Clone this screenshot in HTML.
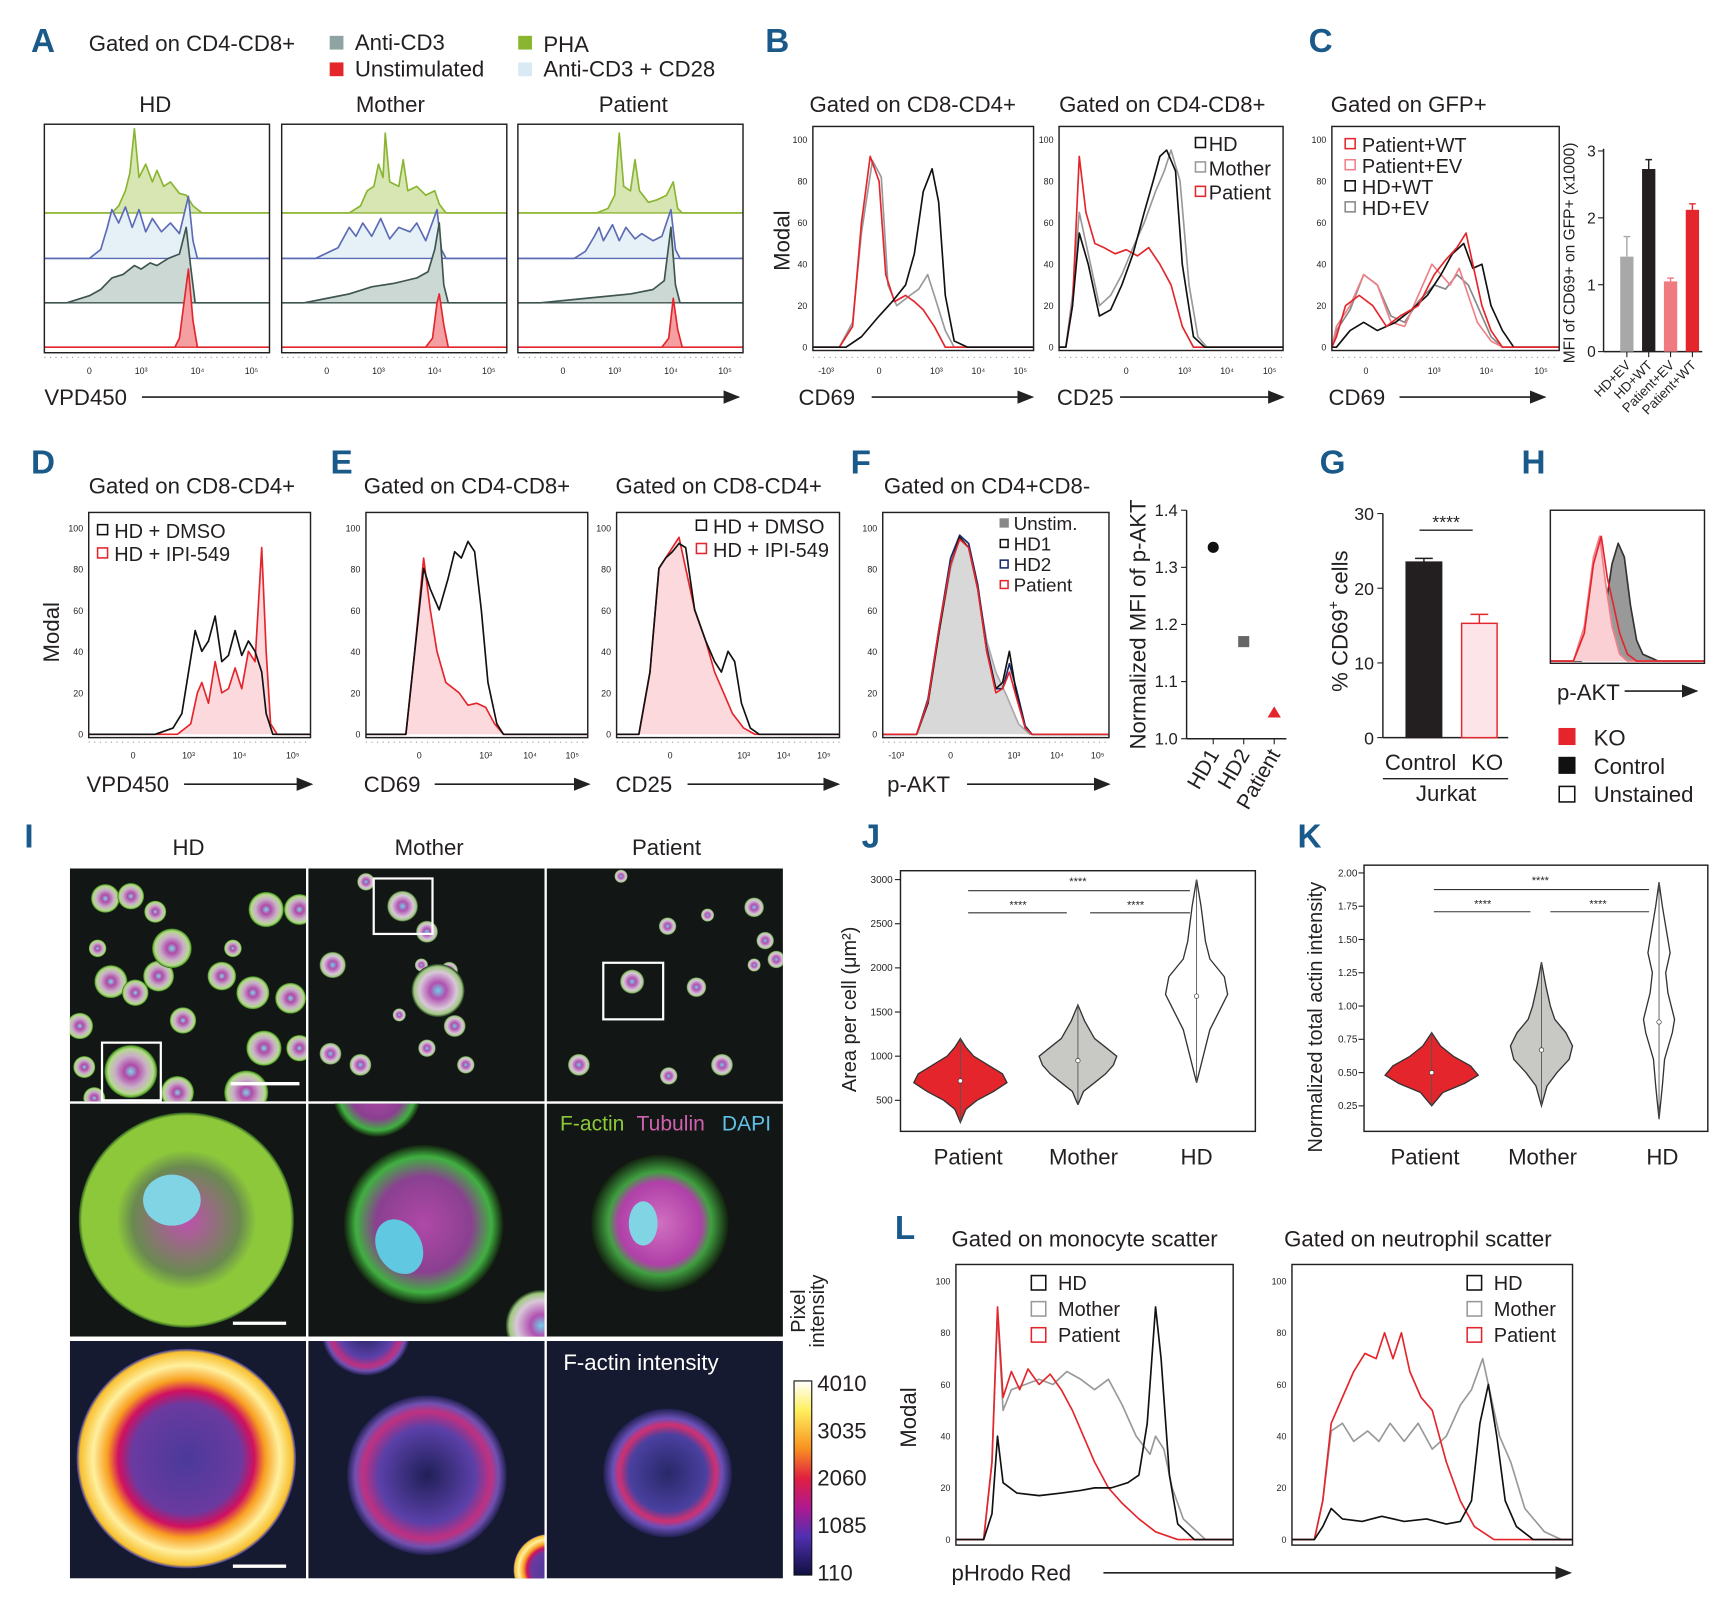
<!DOCTYPE html>
<html><head><meta charset="utf-8">
<style>
html,body{margin:0;padding:0;background:#fff;}
svg{display:block;font-family:"Liberation Sans Narrow","Liberation Sans",sans-serif;}
</style></head>
<body>
<svg id="fig" xmlns="http://www.w3.org/2000/svg" width="1730" height="1605" viewBox="0 0 1560 1447" preserveAspectRatio="none">
<defs>
<radialGradient id="cellG" cx="50%" cy="50%" r="50%"><stop offset="0" stop-color="#7fd8e8"/><stop offset="0.25" stop-color="#b04aa8"/><stop offset="0.6" stop-color="#c8b0c8"/><stop offset="0.85" stop-color="#b8d890"/><stop offset="0.95" stop-color="#60b030"/><stop offset="1" stop-color="#1a3a1a"/></radialGradient>
<radialGradient id="cellP" cx="50%" cy="50%" r="50%"><stop offset="0" stop-color="#70d0e8"/><stop offset="0.3" stop-color="#b050b0"/><stop offset="0.7" stop-color="#d8c8d8"/><stop offset="0.9" stop-color="#a0c880"/><stop offset="1" stop-color="#183018"/></radialGradient>
<radialGradient id="bigHD" cx="50%" cy="50%" r="50%"><stop offset="0" stop-color="#c050b0"/><stop offset="0.5" stop-color="#6a8a50"/><stop offset="0.65" stop-color="#8cc83a"/><stop offset="0.97" stop-color="#8cc83a"/><stop offset="1" stop-color="#2a5a20"/></radialGradient>
<radialGradient id="bigM" cx="50%" cy="50%" r="50%"><stop offset="0" stop-color="#b048a8"/><stop offset="0.6" stop-color="#8a4090"/><stop offset="0.85" stop-color="#40b040"/><stop offset="1" stop-color="#12200f"/></radialGradient>
<radialGradient id="bigP" cx="50%" cy="50%" r="50%"><stop offset="0" stop-color="#d070c0"/><stop offset="0.6" stop-color="#b040a8"/><stop offset="0.75" stop-color="#40a040"/><stop offset="1" stop-color="#12200f"/></radialGradient>
<radialGradient id="heatHD" cx="50%" cy="50%" r="50%"><stop offset="0" stop-color="#4a3a9a"/><stop offset="0.5" stop-color="#6a3aa0"/><stop offset="0.62" stop-color="#d01060"/><stop offset="0.72" stop-color="#f8a020"/><stop offset="0.85" stop-color="#fff0a0"/><stop offset="0.97" stop-color="#f8c030"/><stop offset="1" stop-color="#3030a0"/></radialGradient>
<radialGradient id="heatM" cx="50%" cy="50%" r="50%"><stop offset="0" stop-color="#202058"/><stop offset="0.6" stop-color="#5a40a8"/><stop offset="0.8" stop-color="#c03080"/><stop offset="0.9" stop-color="#7050b0"/><stop offset="1" stop-color="#202050"/></radialGradient>
<radialGradient id="heatP" cx="50%" cy="50%" r="50%"><stop offset="0" stop-color="#282868"/><stop offset="0.6" stop-color="#4a40a0"/><stop offset="0.75" stop-color="#d03070"/><stop offset="0.85" stop-color="#6a50b8"/><stop offset="1" stop-color="#202050"/></radialGradient>
<linearGradient id="cbar" x1="0" y1="0" x2="0" y2="1"><stop offset="0" stop-color="#ffffff"/><stop offset="0.15" stop-color="#fff060"/><stop offset="0.35" stop-color="#f89020"/><stop offset="0.5" stop-color="#e02040"/><stop offset="0.65" stop-color="#b01890"/><stop offset="0.8" stop-color="#5030b0"/><stop offset="1" stop-color="#101040"/></linearGradient>
<marker id="arr" markerWidth="10" markerHeight="10" refX="9" refY="5" orient="auto"><path d="M0,1 L10,5 L0,9 z" fill="#222"/></marker>
</defs>
</svg>
<script>
// ---------- DATA ----------
const aHDGreen=[[0.3,0],[0.33,8],[0.36,25],[0.38,45],[0.4,95],[0.42,40],[0.45,55],[0.48,35],[0.5,48],[0.53,30],[0.56,35],[0.6,22],[0.63,20],[0.66,8],[0.7,0]];
const aHDBlue=[[0.2,0],[0.25,10],[0.28,35],[0.3,55],[0.33,40],[0.36,58],[0.39,35],[0.42,55],[0.45,30],[0.48,45],[0.52,30],[0.56,40],[0.6,28],[0.64,70],[0.66,20],[0.68,0]];
const aHDGray=[[0.1,0],[0.2,8],[0.25,15],[0.3,28],[0.35,32],[0.4,42],[0.43,38],[0.47,45],[0.5,42],[0.55,50],[0.6,55],[0.63,85],[0.65,40],[0.67,0]];
const aHDRed=[[0.58,0],[0.6,10],[0.62,50],[0.64,88],[0.66,30],[0.68,0]];
const aMGreen=[[0.3,0],[0.35,8],[0.38,25],[0.41,30],[0.43,55],[0.45,40],[0.46,90],[0.48,35],[0.52,30],[0.54,60],[0.56,25],[0.6,30],[0.64,20],[0.68,25],[0.7,10],[0.73,0]];
const aMBlue=[[0.15,0],[0.25,12],[0.3,35],[0.33,25],[0.36,40],[0.4,25],[0.44,45],[0.48,22],[0.52,35],[0.57,30],[0.6,40],[0.64,20],[0.69,55],[0.71,10],[0.73,0]];
const aMGray=[[0.1,0],[0.2,5],[0.3,10],[0.4,18],[0.5,22],[0.55,25],[0.6,28],[0.65,35],[0.68,60],[0.7,90],[0.72,20],[0.74,0]];
const aMRed=[[0.64,0],[0.67,10],[0.69,50],[0.7,60],[0.72,25],[0.74,0]];
const aPGreen=[[0.35,0],[0.4,5],[0.43,20],[0.45,90],[0.47,30],[0.5,25],[0.52,60],[0.54,25],[0.58,12],[0.62,15],[0.66,20],[0.69,35],[0.71,5],[0.73,0]];
const aPBlue=[[0.25,0],[0.3,8],[0.34,25],[0.36,35],[0.38,20],[0.42,38],[0.45,20],[0.48,35],[0.52,22],[0.55,28],[0.6,20],[0.64,25],[0.68,55],[0.7,10],[0.72,0]];
const aPGray=[[0.1,0],[0.3,5],[0.5,10],[0.6,15],[0.65,25],[0.68,85],[0.7,20],[0.72,0]];
const aPRed=[[0.64,0],[0.67,10],[0.69,55],[0.71,20],[0.73,0]];
const b1Red=[[0.12,0],[0.18,10],[0.22,60],[0.26,92],[0.3,80],[0.33,35],[0.37,22],[0.42,25],[0.46,22],[0.5,18],[0.55,10],[0.6,0]];
const b1Gray=[[0.12,0],[0.18,12],[0.22,55],[0.27,90],[0.31,82],[0.34,30],[0.38,20],[0.44,25],[0.48,28],[0.52,35],[0.55,25],[0.6,8],[0.64,0]];
const b1Black=[[0.15,0],[0.22,5],[0.3,15],[0.36,22],[0.42,30],[0.46,45],[0.5,75],[0.54,86],[0.57,70],[0.6,25],[0.64,3],[0.7,0]];
const b2Red=[[0.03,0],[0.06,20],[0.09,92],[0.12,65],[0.16,50],[0.2,48],[0.25,45],[0.3,47],[0.35,44],[0.4,48],[0.45,40],[0.5,30],[0.55,10],[0.6,0]];
const b2Black=[[0.03,0],[0.06,20],[0.09,55],[0.13,40],[0.18,15],[0.23,18],[0.28,30],[0.33,45],[0.38,65],[0.42,80],[0.45,92],[0.48,95],[0.52,85],[0.55,40],[0.6,5],[0.65,0]];
const b2Gray=[[0.03,0],[0.06,25],[0.09,65],[0.13,45],[0.18,20],[0.23,25],[0.28,35],[0.33,48],[0.38,60],[0.43,75],[0.47,85],[0.5,95],[0.54,80],[0.58,30],[0.62,5],[0.66,0]];
const cRed=[[0.02,5],[0.06,20],[0.12,25],[0.18,20],[0.24,10],[0.3,15],[0.38,20],[0.45,35],[0.5,42],[0.55,48],[0.59,55],[0.62,40],[0.66,20],[0.7,8],[0.75,0]];
const cPink=[[0.02,10],[0.08,20],[0.14,35],[0.2,30],[0.26,12],[0.32,10],[0.38,25],[0.44,40],[0.48,35],[0.52,30],[0.56,38],[0.6,25],[0.64,12],[0.7,3],[0.75,0]];
const cBlack=[[0.02,0],[0.08,8],[0.14,12],[0.2,8],[0.28,12],[0.35,18],[0.42,25],[0.48,35],[0.53,45],[0.58,50],[0.62,38],[0.66,40],[0.7,20],[0.75,8],[0.8,0]];
const cGray=[[0.02,8],[0.08,18],[0.14,35],[0.2,30],[0.26,15],[0.32,12],[0.38,22],[0.45,30],[0.5,28],[0.55,35],[0.6,30],[0.64,20],[0.7,5],[0.75,0]];
const cBarCats=["HD+EV","HD+WT","Patient+EV","Patient+WT"];
const cBarVals=[1.42,2.73,1.05,2.12];
const cBarErr=[0.3,0.14,0.05,0.09];
const cBarColors=["#a8a8a8","#231f20","#ef7a7f","#e4262c"];
const dBlack=[[0.3,0],[0.38,3],[0.42,10],[0.45,30],[0.48,50],[0.51,40],[0.54,45],[0.57,57],[0.6,35],[0.63,38],[0.66,50],[0.69,38],[0.72,45],[0.75,40],[0.78,30],[0.8,10],[0.83,0]];
const dRed=[[0.4,0],[0.46,5],[0.49,20],[0.51,25],[0.54,15],[0.57,35],[0.6,20],[0.63,22],[0.66,32],[0.69,22],[0.72,40],[0.75,35],[0.78,90],[0.8,40],[0.82,5],[0.85,0]];
const e1Red=[[0.18,0],[0.22,40],[0.26,85],[0.29,60],[0.32,40],[0.36,25],[0.42,20],[0.46,14],[0.5,15],[0.54,13],[0.58,5],[0.62,0]];
const e1Black=[[0.18,0],[0.22,40],[0.26,80],[0.29,70],[0.33,60],[0.37,75],[0.4,88],[0.43,85],[0.46,93],[0.49,88],[0.52,60],[0.55,25],[0.59,5],[0.62,0]];
const e2Red=[[0.1,0],[0.15,30],[0.19,80],[0.22,85],[0.25,90],[0.28,95],[0.31,80],[0.35,60],[0.4,45],[0.44,30],[0.48,20],[0.52,10],[0.57,3],[0.62,0]];
const e2Black=[[0.1,0],[0.15,30],[0.19,80],[0.22,85],[0.25,88],[0.28,92],[0.31,90],[0.35,60],[0.4,45],[0.44,35],[0.47,30],[0.5,40],[0.53,35],[0.56,15],[0.6,3],[0.64,0]];
const fGray=[[0.15,0],[0.2,15],[0.25,50],[0.3,80],[0.34,95],[0.38,90],[0.42,70],[0.46,45],[0.5,30],[0.55,18],[0.6,5],[0.65,0]];
const fBlack=[[0.15,0],[0.2,15],[0.25,50],[0.3,82],[0.34,95],[0.38,90],[0.42,70],[0.46,40],[0.5,22],[0.53,25],[0.56,40],[0.59,20],[0.63,3],[0.66,0]];
const fBlue=[[0.15,0],[0.2,17],[0.25,52],[0.3,85],[0.34,96],[0.38,92],[0.42,72],[0.46,42],[0.5,22],[0.53,22],[0.56,34],[0.59,22],[0.63,4],[0.66,0]];
const fRed=[[0.15,0],[0.2,16],[0.25,52],[0.3,82],[0.34,94],[0.38,90],[0.42,70],[0.46,40],[0.5,20],[0.53,22],[0.56,30],[0.59,18],[0.63,3],[0.66,0]];
const fDotCats=["HD1","HD2","Patient"];
const fDotVals=[1.335,1.17,1.045];
const gCats=["Control","KO"];
const gVals=[23.5,15.3];
const gErr=[0.5,1.2];
const hGray=[[0.2,0],[0.3,10],[0.36,40],[0.4,70],[0.44,85],[0.48,75],[0.52,40],[0.56,15],[0.6,5],[0.7,0]];
const hRed=[[0.15,0],[0.22,20],[0.28,70],[0.33,90],[0.37,60],[0.41,40],[0.45,20],[0.5,5],[0.56,0]];
const hPink=[[0.15,0],[0.22,25],[0.28,75],[0.32,90],[0.36,55],[0.4,25],[0.45,5],[0.5,0]];
const jPatVals=[250,400,500,600,700,800,900,1000,1100,1200];
const jPatDens=[0,5,15,30,42,38,25,12,5,0];
const jMotVals=[450,600,700,800,900,1000,1100,1200,1400,1580];
const jMotDens=[0,5,15,25,32,35,25,15,6,0];
const jHDVals=[700,900,1100,1300,1500,1700,1900,2100,2300,2500,2700,3000];
const jHDDens=[0,4,8,12,20,28,25,12,8,6,4,0];
const jMedians=[720,950,1680];
const jTicks=[500,1000,1500,2000,2500,3000];
const kPatVals=[0.25,0.35,0.42,0.48,0.55,0.62,0.7,0.8];
const kPatDens=[0,10,30,42,35,20,8,0];
const kMotVals=[0.25,0.4,0.5,0.6,0.7,0.8,0.9,1.0,1.15,1.33];
const kMotDens=[0,5,14,25,28,22,12,8,4,0];
const kHDVals=[0.15,0.4,0.6,0.8,0.9,1.1,1.25,1.4,1.6,1.75,1.93];
const kHDDens=[0,3,5,12,14,8,6,10,6,3,0];
const kMedians=[0.5,0.67,0.88];
const kTicks=["0.25","0.50","0.75","1.00","1.25","1.50","1.75","2.00"];
const violinCats=["Patient","Mother","HD"];
const l1Red=[[0.1,0],[0.13,30],[0.15,90],[0.17,55],[0.2,65],[0.23,58],[0.26,66],[0.3,60],[0.34,64],[0.38,58],[0.42,50],[0.46,40],[0.5,30],[0.55,20],[0.6,14],[0.66,8],[0.72,3],[0.8,0]];
const l1Gray=[[0.1,0],[0.13,30],[0.15,88],[0.17,50],[0.2,58],[0.25,60],[0.3,62],[0.35,60],[0.4,65],[0.45,62],[0.5,58],[0.55,62],[0.6,52],[0.65,40],[0.7,33],[0.72,40],[0.75,35],[0.78,20],[0.82,8],[0.9,0]];
const l1Black=[[0.1,0],[0.13,10],[0.15,40],[0.17,22],[0.22,18],[0.3,17],[0.38,18],[0.45,19],[0.5,20],[0.56,20],[0.62,22],[0.66,25],[0.69,45],[0.72,90],[0.74,70],[0.77,25],[0.8,6],[0.86,0]];
const l2Red=[[0.08,0],[0.11,15],[0.14,45],[0.18,55],[0.22,65],[0.26,72],[0.3,70],[0.33,80],[0.36,70],[0.39,80],[0.42,65],[0.46,55],[0.5,50],[0.55,30],[0.6,15],[0.65,5],[0.72,0]];
const l2Gray=[[0.08,0],[0.11,15],[0.14,42],[0.18,45],[0.22,38],[0.27,42],[0.31,38],[0.35,45],[0.4,38],[0.45,45],[0.5,35],[0.55,40],[0.6,52],[0.64,58],[0.68,70],[0.71,55],[0.74,40],[0.78,30],[0.83,12],[0.9,3],[0.96,0]];
const l2Black=[[0.08,0],[0.11,5],[0.14,12],[0.18,8],[0.25,7],[0.32,9],[0.4,7],[0.48,8],[0.55,6],[0.6,7],[0.64,15],[0.67,45],[0.7,60],[0.73,40],[0.76,15],[0.8,5],[0.86,0]];

// ---------- HELPERS ----------
const NS="http://www.w3.org/2000/svg";
const svg=document.getElementById('fig');
function mk(tag,attrs,name,parent){
  const el=document.createElementNS(NS,tag);
  for(const k in attrs) el.setAttribute(k,attrs[k]);
  
  
  (parent||svg).appendChild(el);
  return el;
}
function txt(x,y,s,size,name,opt){
  opt=opt||{};
  const a={x:x,y:y,'font-size':size,fill:opt.fill||'#231f20'};
  if(opt.anchor)a['text-anchor']=opt.anchor;
  if(opt.weight)a['font-weight']=opt.weight;
  if(opt.rot!==undefined)a.transform='rotate('+opt.rot+' '+x+' '+y+')';
  const t=mk('text',a,name);
  t.textContent=s;
  return t;
}
function letter(x,y,s){txt(x,y,s,30,'panel-label-'+s.toLowerCase(),{fill:'#1a5a8a',weight:'bold'});}
function box(x0,y0,x1,y1,name){mk('rect',{x:x0,y:y0,width:x1-x0,height:y1-y0,fill:'none',stroke:'#231f20','stroke-width':1.3},name);}
function hist(pts,x0,x1,base,full,stroke,fill,name,sw){
  let d='M'+x0+','+base;
  pts.forEach(p=>{d+=' L'+(x0+p[0]*(x1-x0)).toFixed(1)+','+(base-p[1]/100*full).toFixed(1);});
  d+=' L'+x1+','+base;
  mk('path',{d:d,fill:fill||'none',stroke:stroke,'stroke-width':sw||1.5,'stroke-linejoin':'round'},name);
}
function yModal(x,top,bot,name){
  for(let v=0;v<=100;v+=20){const y=bot-(v/100)*(bot-top);txt(x-5,y+3,String(v),8,name+'-tick',{anchor:'end'});}
}
function xLogTicks(x0,x1,y,fr,labs,name){
  labs.forEach((l,i)=>{txt(x0+fr[i]*(x1-x0),y,l,8,name+'-tick',{anchor:'middle'});});
  mk('line',{x1:x0,y1:y-15,x2:x1,y2:y-15,stroke:'#444','stroke-width':0.6,'stroke-dasharray':'1 4'},name+'-minor-ticks');
}
function axisArrow(x0,x1,y,name){mk('line',{x1:x0,y1:y,x2:x1,y2:y,stroke:'#231f20','stroke-width':1.5,'marker-end':'url(#arr)'},name);}
function sq(x,y,s,stroke,fill,name){mk('rect',{x:x,y:y,width:s,height:s,fill:fill,stroke:stroke,'stroke-width':1.4},name);}

// ---------- PANEL A ----------
letter(28,47,'A');
txt(80,46,'Gated on CD4-CD8+',20,'panel-a-gate');
sq(298,33,11,'#8fa3a3','#8fa3a3','legend-anti-cd3-swatch');txt(320,45,'Anti-CD3',20,'legend-anti-cd3');
sq(298,57,11,'#e4262c','#e4262c','legend-unstim-swatch');txt(320,69,'Unstimulated',20,'legend-unstimulated');
sq(468,33,11,'#8ab530','#8ab530','legend-pha-swatch');txt(490,47,'PHA',20,'legend-pha');
sq(468,57,11,'#d9eaf5','#d9eaf5','legend-cd3cd28-swatch');txt(490,69,'Anti-CD3 + CD28',20,'legend-anti-cd3-cd28');
const aBoxes=[[40,243,'HD',140],[254,457,'Mother',352],[467,670,'Patient',571]];
const aData=[[aHDGreen,aHDBlue,aHDGray,aHDRed],[aMGreen,aMBlue,aMGray,aMRed],[aPGreen,aPBlue,aPGray,aPRed]];
const aStyles=[['#8ab530','#d7e6b3',192],['#5b6bb5','#e6f0f7',233],['#3e5550','#ccd8d4',273],['#e4262c','#f4a0a3',313]];
aBoxes.forEach((b,i)=>{
  txt(b[3],101,b[2],20,'panel-a-title-'+b[2].toLowerCase(),{anchor:'middle'});
  aStyles.forEach((s,j)=>{
    hist(aData[i][j],b[0],b[1],s[2],80,s[0],s[1],'panel-a-hist-'+b[2].toLowerCase()+'-'+j);
    mk('line',{x1:b[0],y1:s[2],x2:b[1],y2:s[2],stroke:s[0],'stroke-width':1.2},'panel-a-baseline');
  });
  box(b[0],112,b[1],318,'panel-a-box-'+b[2].toLowerCase());
  xLogTicks(b[0],b[1],337,[0.2,0.43,0.68,0.92],['0','10³','10⁴','10⁵'],'panel-a-x');
});
txt(40,365,'VPD450',20,'panel-a-x-title');axisArrow(128,666,358,'panel-a-x-arrow');

// ---------- PANEL B ----------
letter(690,47,'B');
txt(730,101,'Gated on CD8-CD4+',20,'panel-b-gate-1');
txt(955,101,'Gated on CD4-CD8+',20,'panel-b-gate-2');
hist(b1Gray,733,932,313,187,'#999',null,'panel-b-cd69-mother');
hist(b1Red,733,932,313,187,'#e4262c',null,'panel-b-cd69-patient');
hist(b1Black,733,932,313,187,'#111',null,'panel-b-cd69-hd');
box(733,114,932,316,'panel-b-box-cd69');yModal(733,126,313,'panel-b-y');
hist(b2Gray,955,1157,313,187,'#999',null,'panel-b-cd25-mother');
hist(b2Red,955,1157,313,187,'#e4262c',null,'panel-b-cd25-patient');
hist(b2Black,955,1157,313,187,'#111',null,'panel-b-cd25-hd');
box(955,114,1157,316,'panel-b-box-cd25');yModal(955,126,313,'panel-b-y2');
txt(712,217,'Modal',20,'panel-b-y-title',{anchor:'middle',rot:-90});
xLogTicks(733,932,337,[0.06,0.3,0.56,0.75,0.94],['-10³','0','10³','10⁴','10⁵'],'panel-b-x1');
xLogTicks(955,1157,337,[0.06,0.3,0.56,0.75,0.94],['','0','10³','10⁴','10⁵'],'panel-b-x2');
sq(1078,124,9,'#111','none','legend-hd-swatch');txt(1090,136,'HD',18,'legend-hd');
sq(1078,146,9,'#999','none','legend-mother-swatch');txt(1090,158,'Mother',18,'legend-mother');
sq(1078,168,9,'#e4262c','none','legend-patient-swatch');txt(1090,180,'Patient',18,'legend-patient');
txt(720,365,'CD69',20,'panel-b-x-title-1');axisArrow(786,931,358,'panel-b-x-arrow-1');
txt(953,365,'CD25',20,'panel-b-x-title-2');axisArrow(1010,1157,358,'panel-b-x-arrow-2');

// ---------- PANEL C ----------
letter(1180,47,'C');
txt(1200,101,'Gated on GFP+',20,'panel-c-gate');
hist(cGray,1201,1406,313,187,'#888',null,'panel-c-hd-ev');
hist(cPink,1201,1406,313,187,'#f08088',null,'panel-c-patient-ev');
hist(cBlack,1201,1406,313,187,'#111',null,'panel-c-hd-wt');
hist(cRed,1201,1406,313,187,'#e4262c',null,'panel-c-patient-wt');
box(1201,114,1406,316,'panel-c-box');yModal(1201,126,313,'panel-c-y');
xLogTicks(1201,1406,337,[0.15,0.45,0.68,0.92],['0','10³','10⁴','10⁵'],'panel-c-x');
[['Patient+WT','#e4262c'],['Patient+EV','#f08088'],['HD+WT','#111'],['HD+EV','#888']].forEach((l,i)=>{
  sq(1213,125+i*19,9,l[1],'none','legend-c-swatch-'+i);txt(1228,137+i*19,l[0],18,'legend-c-'+l[0].toLowerCase().replace('+','-'));
});
txt(1198,365,'CD69',20,'panel-c-x-title');axisArrow(1262,1393,358,'panel-c-x-arrow');
(function(){
  const ax=1446,y0=317,pp=60.3;
  const ys=v=>y0-v*pp;
  mk('line',{x1:ax,y1:ys(0),x2:ax,y2:ys(3)-2,stroke:'#231f20','stroke-width':1.3},'panel-c-bar-y-axis');
  mk('line',{x1:ax,y1:y0,x2:1535,y2:y0,stroke:'#231f20','stroke-width':1.3},'panel-c-bar-x-axis');
  [0,1,2,3].forEach(v=>{mk('line',{x1:ax-5,y1:ys(v),x2:ax,y2:ys(v),stroke:'#231f20'},'panel-c-bar-tick');txt(ax-7,ys(v)+5,String(v),14,'panel-c-bar-tick-label',{anchor:'end'});});
  cBarVals.forEach((v,i)=>{
    const cx=1467+i*19.7;
    mk('rect',{x:cx-6,y:ys(v),width:12,height:v*pp,fill:cBarColors[i]},'bar-'+cBarCats[i].toLowerCase().replace('+','-'));
    mk('path',{d:'M'+cx+','+ys(v)+' V'+ys(v+cBarErr[i])+' M'+(cx-3)+','+ys(v+cBarErr[i])+' H'+(cx+3),stroke:cBarColors[i],'stroke-width':1.3,fill:'none'},'error-bar');
    mk('line',{x1:cx,y1:y0,x2:cx,y2:y0+5,stroke:'#231f20'},'panel-c-bar-xtick');
    txt(cx+4,y0+13,cBarCats[i],12,'panel-c-bar-xlabel',{anchor:'end',rot:-45});
  });
  txt(1420,228,'MFI of CD69+ on GFP+ (x1000)',14,'panel-c-bar-y-title',{anchor:'middle',rot:-90});
})();

// ---------- PANEL D ----------
letter(28,427,'D');
txt(80,445,'Gated on CD8-CD4+',20,'panel-d-gate');
hist(dRed,80,280,662,187,'#e4262c','#fbd9dd','panel-d-ipi549');
hist(dBlack,80,280,662,187,'#111',null,'panel-d-dmso');
box(80,462,280,665,'panel-d-box');yModal(80,476,662,'panel-d-y');
sq(88,473,9,'#111','none','legend-dmso-swatch');txt(103,485,'HD + DMSO',18,'legend-dmso');
sq(88,494,9,'#e4262c','none','legend-ipi-swatch');txt(103,506,'HD + IPI-549',18,'legend-ipi549');
txt(53,570,'Modal',20,'panel-d-y-title',{anchor:'middle',rot:-90});
xLogTicks(80,280,684,[0.2,0.45,0.68,0.92],['0','10³','10⁴','10⁵'],'panel-d-x');
txt(78,714,'VPD450',20,'panel-d-x-title');axisArrow(166,281,707,'panel-d-x-arrow');

// ---------- PANEL E ----------
letter(298,427,'E');
txt(328,445,'Gated on CD4-CD8+',20,'panel-e-gate-1');
txt(555,445,'Gated on CD8-CD4+',20,'panel-e-gate-2');
hist(e1Red,330,530,662,187,'#e4262c','#fbd9dd','panel-e-cd69-ipi');
hist(e1Black,330,530,662,187,'#111',null,'panel-e-cd69-dmso');
box(330,462,530,665,'panel-e-box-1');yModal(330,476,662,'panel-e-y1');
hist(e2Red,556,757,662,187,'#e4262c','#fbd9dd','panel-e-cd25-ipi');
hist(e2Black,556,757,662,187,'#111',null,'panel-e-cd25-dmso');
box(556,462,757,665,'panel-e-box-2');yModal(556,476,662,'panel-e-y2');
sq(628,469,9,'#111','none','legend-e-dmso-swatch');txt(643,481,'HD + DMSO',18,'legend-e-dmso');
sq(628,490,9,'#e4262c','none','legend-e-ipi-swatch');txt(643,502,'HD + IPI-549',18,'legend-e-ipi549');
xLogTicks(330,530,684,[0.24,0.54,0.74,0.93],['0','10³','10⁴','10⁵'],'panel-e-x1');
xLogTicks(556,757,684,[0.24,0.57,0.75,0.93],['0','10³','10⁴','10⁵'],'panel-e-x2');
txt(328,714,'CD69',20,'panel-e-x-title-1');axisArrow(392,531,707,'panel-e-x-arrow-1');
txt(555,714,'CD25',20,'panel-e-x-title-2');axisArrow(620,756,707,'panel-e-x-arrow-2');

// ---------- PANEL F ----------
letter(767,427,'F');
txt(797,445,'Gated on CD4+CD8-',20,'panel-f-gate');
hist(fGray,796,1000,662,187,'#aaa','#d8d8d8','panel-f-unstim');
hist(fBlue,796,1000,662,187,'#1a2a6a',null,'panel-f-hd2');
hist(fBlack,796,1000,662,187,'#111',null,'panel-f-hd1');
hist(fRed,796,1000,662,187,'#e4262c',null,'panel-f-patient');
box(796,462,1000,665,'panel-f-box');yModal(796,476,662,'panel-f-y');
[['Unstim.','#888','#888'],['HD1','#111','none'],['HD2','#1a2a6a','none'],['Patient','#e4262c','none']].forEach((l,i)=>{
  sq(902,468+i*18.5,7,l[1],l[2],'legend-f-swatch-'+i);txt(914,478+i*18.5,l[0],17,'legend-f-'+l[0].toLowerCase().replace('.',''));
});
xLogTicks(796,1000,684,[0.06,0.3,0.58,0.77,0.95],['-10³','0','10³','10⁴','10⁵'],'panel-f-x');
txt(800,714,'p-AKT',20,'panel-f-x-title');axisArrow(872,1000,707,'panel-f-x-arrow');
(function(){
  const ax=1070,ys=v=>666-(v-1.0)/0.4*206;
  mk('line',{x1:ax,y1:ys(1.0),x2:ax,y2:ys(1.4),stroke:'#231f20','stroke-width':1.3},'panel-f-dot-y-axis');
  mk('line',{x1:ax,y1:666,x2:1160,y2:666,stroke:'#231f20','stroke-width':1.3},'panel-f-dot-x-axis');
  ['1.0','1.1','1.2','1.3','1.4'].forEach(l=>{const v=parseFloat(l);mk('line',{x1:ax-5,y1:ys(v),x2:ax,y2:ys(v),stroke:'#231f20'},'panel-f-dot-tick');txt(ax-8,ys(v)+5,l,15,'panel-f-dot-tick-label',{anchor:'end'});});
  fDotVals.forEach((v,i)=>{
    const cx=1094+i*27.5;
    if(i===0)mk('circle',{cx:cx,cy:ys(v),r:5,fill:'#111'},'point-hd1');
    else if(i===1)mk('rect',{x:cx-5,y:ys(v)-5,width:10,height:10,fill:'#666'},'point-hd2');
    else mk('path',{d:'M'+cx+','+(ys(v)-6)+' L'+(cx+6)+','+(ys(v)+4)+' L'+(cx-6)+','+(ys(v)+4)+' Z',fill:'#e4262c'},'point-patient');
    mk('line',{x1:cx,y1:666,x2:cx,y2:671,stroke:'#231f20'},'panel-f-dot-xtick');
    txt(cx+6,680,fDotCats[i],19,'panel-f-dot-xlabel',{anchor:'end',rot:-60});
  });
  txt(1033,563,'Normalized MFI of p-AKT',20,'panel-f-dot-y-title',{anchor:'middle',rot:-90});
})();

// ---------- PANEL G ----------
letter(1190,427,'G');
(function(){
  const ax=1247,ys=v=>665-v/30*202;
  mk('line',{x1:ax,y1:ys(0),x2:ax,y2:ys(30),stroke:'#231f20','stroke-width':1.3},'panel-g-y-axis');
  mk('line',{x1:ax,y1:665,x2:1360,y2:665,stroke:'#231f20','stroke-width':1.3},'panel-g-x-axis');
  [0,10,20,30].forEach(v=>{mk('line',{x1:ax-5,y1:ys(v),x2:ax,y2:ys(v),stroke:'#231f20'},'panel-g-tick');txt(ax-8,ys(v)+6,String(v),16,'panel-g-tick-label',{anchor:'end'});});
  const cxs=[1284,1334];
  gVals.forEach((v,i)=>{
    const cx=cxs[i];
    mk('rect',{x:cx-16,y:ys(v),width:32,height:665-ys(v),fill:i?'#fde4e8':'#231f20',stroke:i?'#e4262c':'#231f20','stroke-width':1.3},'bar-'+gCats[i].toLowerCase());
    mk('path',{d:'M'+cx+','+ys(v)+' V'+ys(v+gErr[i])+' M'+(cx-8)+','+ys(v+gErr[i])+' H'+(cx+8),stroke:i?'#e4262c':'#231f20','stroke-width':1.3,fill:'none'},'error-bar');
  });
  txt(1281,694,'Control',20,'panel-g-xlabel-control',{anchor:'middle'});
  txt(1341,694,'KO',20,'panel-g-xlabel-ko',{anchor:'middle'});
  mk('line',{x1:1247,y1:702,x2:1360,y2:702,stroke:'#231f20','stroke-width':1.2},'panel-g-group-line');
  txt(1304,722,'Jurkat',20,'panel-g-group-label',{anchor:'middle'});
  mk('line',{x1:1280,y1:478,x2:1328,y2:478,stroke:'#231f20','stroke-width':1.2},'panel-g-sig-line');
  txt(1304,476,'****',16,'panel-g-sig',{anchor:'middle'});
  const t=txt(1215,560,'% CD69',20,'panel-g-y-title',{anchor:'middle',rot:-90});
  const ts=mk('tspan',{'font-size':13,dy:-8},'superscript',t);ts.textContent='+';
  const t2=mk('tspan',{dy:8},'cells-text',t);t2.textContent=' cells';
})();

// ---------- PANEL H ----------
letter(1372,427,'H');
hist(hGray,1398,1537,596,125,'#333','#999','panel-h-control');
hist(hPink,1398,1537,596,125,'#f08088','#fbd0d5','panel-h-unstained');
hist(hRed,1398,1537,596,125,'#e4262c',null,'panel-h-ko');
box(1398,460,1537,598,'panel-h-box');
txt(1404,631,'p-AKT',20,'panel-h-x-title');axisArrow(1465,1530,623,'panel-h-x-arrow');
sq(1406,657,14,'#e4262c','#e4262c','legend-ko-swatch');txt(1437,672,'KO',20,'legend-ko');
sq(1406,683,14,'#111','#111','legend-control-swatch');txt(1437,698,'Control',20,'legend-control');
sq(1406,709,14,'#111','#fff','legend-unstained-swatch');txt(1437,723,'Unstained',20,'legend-unstained');

// ---------- PANEL I ----------
letter(22,764,'I');
txt(170,771,'HD',20,'panel-i-title-hd',{anchor:'middle'});
txt(387,771,'Mother',20,'panel-i-title-mother',{anchor:'middle'});
txt(601,771,'Patient',20,'panel-i-title-patient',{anchor:'middle'});
const cols=[63,278,493],rows=[783,995,1209];
const defs=svg.querySelector('defs');
const tiles=[];
rows.forEach((ry,r)=>{tiles.push([]);cols.forEach((cx,c)=>{
  const h=r===2?214:210;
  const cp=mk('clipPath',{id:'tile'+r+c},'tile-clip',defs);
  mk('rect',{x:cx,y:ry,width:213,height:h},'tile-clip-rect',cp);
  const g=mk('g',{'clip-path':'url(#tile'+r+c+')'},'micrograph-'+r+'-'+c);
  mk('rect',{x:cx,y:ry,width:213,height:h,fill:r===2?'#161a30':'#121614'},'micrograph-bg',g);
  tiles[r].push(g);
});});
function tileAt(r,x){return tiles[r][x<277?0:(x<492?1:2)];}
const topHD=[[95,810,13],[118,808,12],[140,822,10],[88,855,8],[100,885,15],[122,895,12],[143,880,14],[155,855,18],[165,920,12],[200,880,13],[210,855,8],[228,895,15],[240,820,16],[270,820,14],[262,900,14],[238,945,16],[270,945,12],[222,985,20],[72,925,12],[76,962,10],[118,966,24],[160,985,15],[85,990,10]];
const topM=[[363,817,14],[385,840,10],[300,870,12],[380,870,6],[405,875,8],[298,950,10],[325,960,10],[385,945,8],[410,925,10],[420,960,8],[395,893,24],[360,915,6],[330,795,8]];
const topP=[[602,835,8],[638,825,6],[680,818,9],[690,848,8],[680,870,6],[628,890,9],[570,885,11],[522,960,10],[603,970,8],[651,960,10],[700,865,8],[560,790,6]];
[[topHD,'url(#cellG)'],[topM,'url(#cellP)'],[topP,'url(#cellP)']].forEach(g=>g[0].forEach(c=>{
  mk('circle',{cx:c[0],cy:c[1],r:c[2],fill:g[1]},'cell',tileAt(0,c[0]));
}));
mk('rect',{x:92,y:940,width:53,height:52,fill:'none',stroke:'#fff','stroke-width':2},'inset-box-hd');
mk('rect',{x:337,y:792,width:53,height:50,fill:'none',stroke:'#fff','stroke-width':2},'inset-box-mother');
mk('rect',{x:544,y:868,width:54,height:51,fill:'none',stroke:'#fff','stroke-width':2},'inset-box-patient');
mk('line',{x1:208,y1:977,x2:270,y2:977,stroke:'#fff','stroke-width':3},'scale-bar-top');
mk('circle',{cx:168,cy:1100,r:97,fill:'url(#bigHD)'},'big-cell-hd',tiles[1][0]);
mk('ellipse',{cx:155,cy:1082,rx:26,ry:23,fill:'#80d4e4'},'nucleus-hd',tiles[1][0]);
mk('circle',{cx:382,cy:1104,r:72,fill:'url(#bigM)'},'big-cell-mother',tiles[1][1]);
mk('ellipse',{cx:360,cy:1124,rx:20,ry:26,fill:'#60c8e0',transform:'rotate(-30 360 1124)'},'nucleus-mother',tiles[1][1]);
mk('circle',{cx:488,cy:1195,r:32,fill:'url(#cellP)'},'partial-cell',tiles[1][1]);
mk('circle',{cx:340,cy:985,r:40,fill:'url(#bigM)'},'partial-cell-top',tiles[1][1]);
mk('circle',{cx:595,cy:1103,r:62,fill:'url(#bigP)'},'big-cell-patient',tiles[1][2]);
mk('ellipse',{cx:580,cy:1103,rx:13,ry:20,fill:'#80d4e4'},'nucleus-patient',tiles[1][2]);
mk('line',{x1:210,y1:1193,x2:258,y2:1193,stroke:'#fff','stroke-width':3},'scale-bar-mid');
txt(505,1019,'F-actin',19,'channel-label-factin',{fill:'#8cc83a'});
txt(574,1019,'Tubulin',19,'channel-label-tubulin',{fill:'#d060b0'});
txt(651,1019,'DAPI',19,'channel-label-dapi',{fill:'#60c0e8'});
mk('circle',{cx:168,cy:1315,r:99,fill:'url(#heatHD)'},'heat-cell-hd',tiles[2][0]);
mk('circle',{cx:385,cy:1330,r:72,fill:'url(#heatM)'},'heat-cell-mother',tiles[2][1]);
mk('circle',{cx:330,cy:1200,r:40,fill:'url(#heatM)'},'heat-partial-cell',tiles[2][1]);
mk('circle',{cx:495,cy:1415,r:32,fill:'url(#heatHD)'},'heat-partial-cell-2',tiles[2][1]);
mk('circle',{cx:602,cy:1328,r:58,fill:'url(#heatP)'},'heat-cell-patient',tiles[2][2]);
mk('line',{x1:210,y1:1412,x2:258,y2:1412,stroke:'#fff','stroke-width':3},'scale-bar-bottom');
txt(508,1235,'F-actin intensity',20,'f-actin-intensity-label',{fill:'#fff'});
mk('rect',{x:716,y:1245,width:16,height:175,fill:'url(#cbar)',stroke:'#111','stroke-width':1},'colorbar');
['4010','3035','2060','1085','110'].forEach((l,i)=>txt(737,1254+i*42.7,l,20,'colorbar-label'));
txt(726,1182,'Pixel',18,'colorbar-title-1',{anchor:'middle',rot:-90});
txt(743,1182,'intensity',18,'colorbar-title-2',{anchor:'middle',rot:-90});

// ---------- VIOLINS ----------
function violin(vals,dens,cx,ys,fill,stroke,med,name){
  let d='M'+cx+','+ys(vals[0]);
  vals.forEach((v,i)=>{d+=' L'+(cx+dens[i]).toFixed(1)+','+ys(v).toFixed(1);});
  for(let i=vals.length-1;i>=0;i--){d+=' L'+(cx-dens[i]).toFixed(1)+','+ys(vals[i]).toFixed(1);}
  d+=' Z';
  mk('path',{d:d,fill:fill,stroke:stroke,'stroke-width':1.2},name);
  mk('line',{x1:cx,y1:ys(vals[0]),x2:cx,y2:ys(vals[vals.length-1]),stroke:'#555','stroke-width':0.8},name+'-whisker');
  mk('circle',{cx:cx,cy:ys(med),r:2,fill:'#fff',stroke:'#333','stroke-width':0.6},name+'-median');
}
letter(777,764,'J');
(function(){
  const ys=v=>992-(v-500)*0.0796;
  box(812,785,1132,1020,'panel-j-box');
  jTicks.forEach(v=>{mk('line',{x1:807,y1:ys(v),x2:812,y2:ys(v),stroke:'#231f20'},'panel-j-tick');txt(805,ys(v)+3,String(v),9,'panel-j-tick-label',{anchor:'end'});});
  const cxs=[866,972,1079];
  violin(jPatVals,jPatDens,cxs[0],ys,'#e4262c','#333',jMedians[0],'violin-j-patient');
  violin(jMotVals,jMotDens,cxs[1],ys,'#c8c8c4','#333',jMedians[1],'violin-j-mother');
  violin(jHDVals,jHDDens,cxs[2],ys,'#fff','#333',jMedians[2],'violin-j-hd');
  [873,977,1079].forEach((x,i)=>txt(x,1050,violinCats[i],20,'panel-j-xlabel',{anchor:'middle'}));
  mk('path',{d:'M873,803 H1073 M873,823 H962 M983,823 H1073',stroke:'#333','stroke-width':1,fill:'none'},'panel-j-sig-lines');
  txt(972,798,'****',10,'panel-j-sig',{anchor:'middle'});txt(918,819,'****',10,'panel-j-sig',{anchor:'middle'});txt(1024,819,'****',10,'panel-j-sig',{anchor:'middle'});
  txt(772,910,'Area per cell (μm²)',18,'panel-j-y-title',{anchor:'middle',rot:-90});
})();
letter(1170,764,'K');
(function(){
  const ys=v=>997-(v-0.25)/0.25*30;
  box(1230,780,1540,1020,'panel-k-box');
  kTicks.forEach(l=>{const v=parseFloat(l);mk('line',{x1:1225,y1:ys(v),x2:1230,y2:ys(v),stroke:'#231f20'},'panel-k-tick');txt(1224,ys(v)+3,l,9,'panel-k-tick-label',{anchor:'end'});});
  const cxs=[1291,1390,1496];
  violin(kPatVals,kPatDens,cxs[0],ys,'#e4262c','#333',kMedians[0],'violin-k-patient');
  violin(kMotVals,kMotDens,cxs[1],ys,'#c8c8c4','#333',kMedians[1],'violin-k-mother');
  violin(kHDVals,kHDDens,cxs[2],ys,'#fff','#333',kMedians[2],'violin-k-hd');
  [1285,1391,1499].forEach((x,i)=>txt(x,1050,violinCats[i],20,'panel-k-xlabel',{anchor:'middle'}));
  mk('path',{d:'M1293,802 H1487 M1293,822 H1380 M1398,822 H1487',stroke:'#333','stroke-width':1,fill:'none'},'panel-k-sig-lines');
  txt(1389,797,'****',10,'panel-k-sig',{anchor:'middle'});txt(1337,818,'****',10,'panel-k-sig',{anchor:'middle'});txt(1441,818,'****',10,'panel-k-sig',{anchor:'middle'});
  txt(1192,917,'Normalized total actin intensity',18,'panel-k-y-title',{anchor:'middle',rot:-90});
})();

// ---------- PANEL L ----------
letter(807,1117,'L');
txt(858,1124,'Gated on monocyte scatter',20,'panel-l-gate-1');
txt(1158,1124,'Gated on neutrophil scatter',20,'panel-l-gate-2');
hist(l1Gray,862,1112,1388,233,'#999',null,'panel-l-mono-mother');
hist(l1Red,862,1112,1388,233,'#e4262c',null,'panel-l-mono-patient');
hist(l1Black,862,1112,1388,233,'#111',null,'panel-l-mono-hd');
box(862,1140,1112,1393,'panel-l-box-1');yModal(862,1155,1388,'panel-l-y1');
hist(l2Gray,1165,1418,1388,233,'#999',null,'panel-l-neut-mother');
hist(l2Red,1165,1418,1388,233,'#e4262c',null,'panel-l-neut-patient');
hist(l2Black,1165,1418,1388,233,'#111',null,'panel-l-neut-hd');
box(1165,1140,1418,1393,'panel-l-box-2');yModal(1165,1155,1388,'panel-l-y2');
[[930,'l1'],[1323,'l2']].forEach(g=>{
  [['HD','#111'],['Mother','#999'],['Patient','#e4262c']].forEach((l,i)=>{
    sq(g[0],1150+i*23.5,13,l[1],'none','legend-'+g[1]+'-swatch-'+i);txt(g[0]+24,1163+i*23.5,l[0],18,'legend-'+g[1]+'-'+l[0].toLowerCase());
  });
});
txt(826,1278,'Modal',20,'panel-l-y-title',{anchor:'middle',rot:-90});
txt(858,1425,'pHrodo Red',20,'panel-l-x-title');axisArrow(995,1416,1418,'panel-l-x-arrow');
</script>
</body></html>
